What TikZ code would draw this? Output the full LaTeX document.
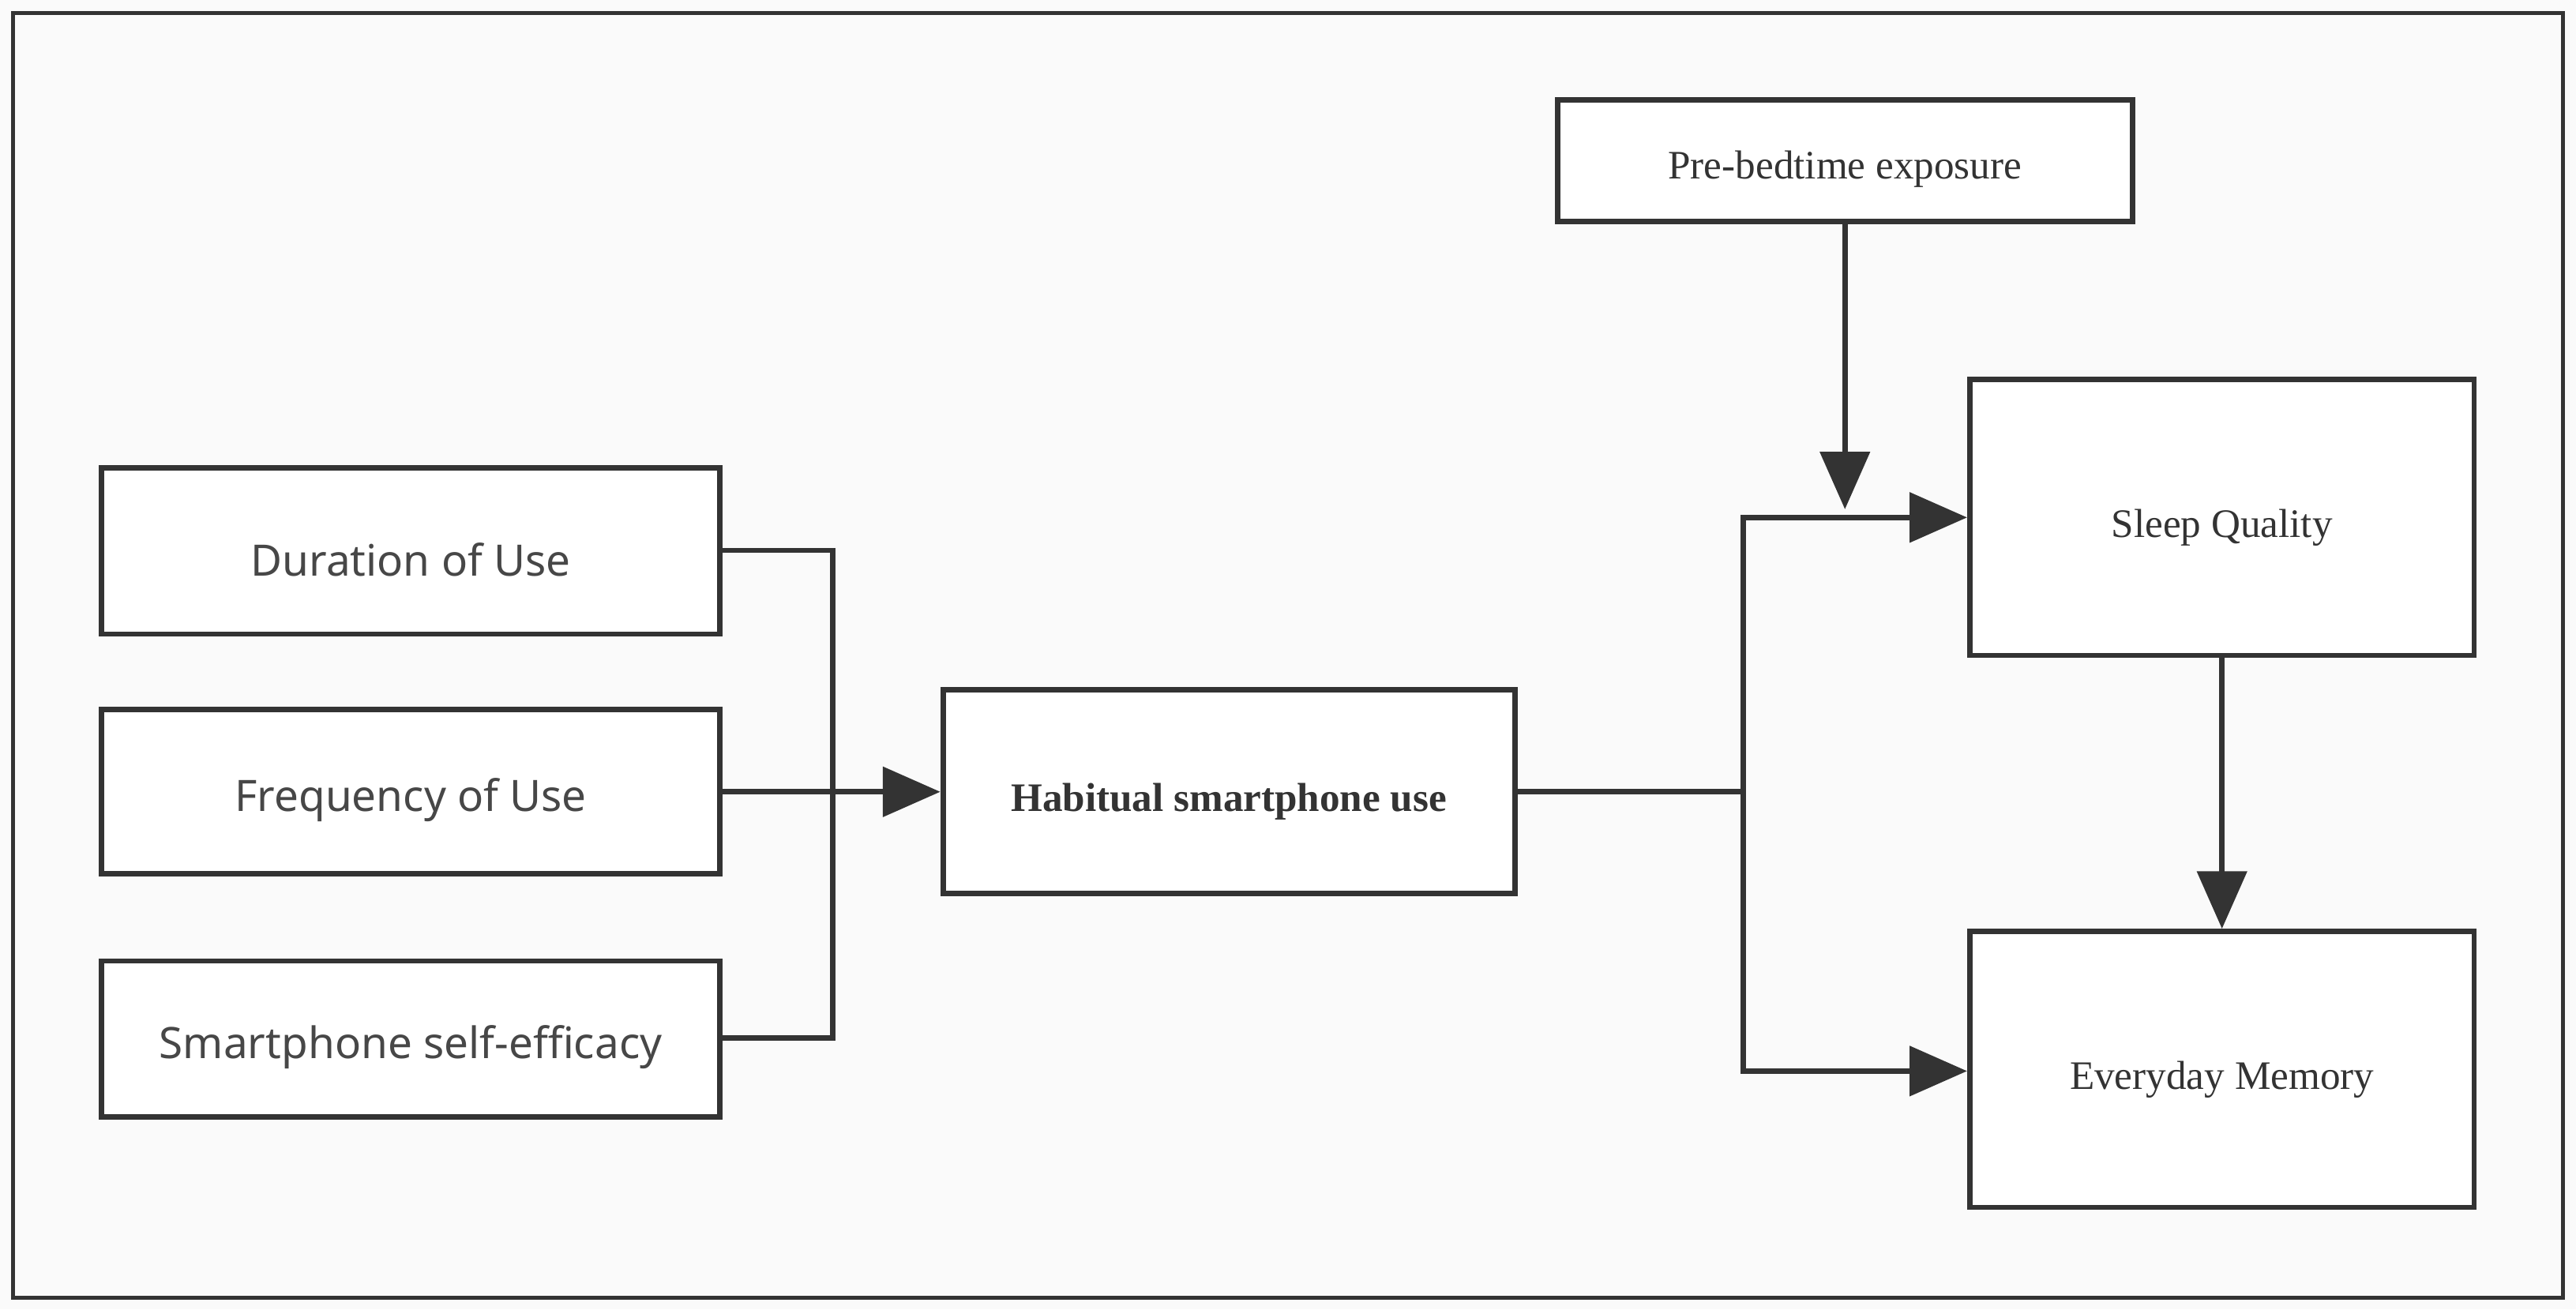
\documentclass[tikz,border=0pt]{standalone}
\usepackage{fontspec}
\setmainfont{Liberation Serif}
\newfontfamily\sansf{Noto Sans}
\usetikzlibrary{arrows.meta}
\definecolor{ln}{HTML}{333333}
\begin{document}
\begin{tikzpicture}[x=0.3mm,y=-0.3mm,
  box/.style={draw=ln,line width=2.8pt,fill=white,inner sep=0pt,text=ln,font=\fontsize{21}{26}\selectfont},
  sbox/.style={box,font=\sansf\fontsize{22.5}{26}\selectfont,text=ln!90},
  wire/.style={draw=ln,line width=2.8pt,line join=miter},
  arr/.style={wire,-{Triangle[length=10.5mm,width=9mm]}}]
\useasboundingbox (0,0) rectangle (1568,797);
\fill[black!2] (0,0) rectangle (1568,797);
\draw[ln,line width=2pt] (8,8) rectangle (1560,790);
\node[sbox,minimum width=113mm,minimum height=30.3mm] (dur) at (250,335.5) {};
\node[sbox,minimum width=113mm,minimum height=30mm] (fre) at (250,482) {};
\node[sbox,minimum width=113mm,minimum height=28.5mm] (sel) at (250,632.5) {};
\node[box,minimum width=104.4mm,minimum height=37.2mm] (hab) at (748,482) {};
\node[box,minimum width=105mm,minimum height=22.2mm] (pre) at (1123,98) {};
\node[box,minimum width=92.1mm,minimum height=50.4mm] (slp) at (1352.5,315) {};
\node[box,minimum width=92.1mm,minimum height=50.4mm] (mem) at (1352.5,651) {};
\node[sbox,draw=none,fill=none] at ([yshift=-1.5mm]dur.center) {Duration of Use};
\node[sbox,draw=none,fill=none] at ([yshift=-1.5mm]fre.center) {Frequency of Use};
\node[sbox,draw=none,fill=none] at ([yshift=-1.5mm]sel.center) {Smartphone self-efficacy};
\node[box,draw=none,fill=none,font=\bfseries\fontsize{21}{26}\selectfont] at ([yshift=-1.8mm]hab.center) {Habitual smartphone use};
\node[box,draw=none,fill=none] at ([yshift=-1.5mm]pre.center) {Pre-bedtime exposure};
\node[box,draw=none,fill=none] at ([yshift=-1.8mm]slp.center) {Sleep Quality};
\node[box,draw=none,fill=none] at ([yshift=-1.8mm]mem.center) {Everyday Memory};
\coordinate (j1a) at (507,335); \coordinate (j1b) at (507,632);
\coordinate (j2) at (1061,482); \coordinate (j2a) at (1061,315); \coordinate (j2b) at (1061,652);
\coordinate (pe) at (1123,310);
\draw[wire] (dur.east |- j1a) -- (j1a) -- (j1b) -- (sel.east |- j1b);
\draw[arr] (fre.east) -- (hab.west);
\draw[wire] (hab.east) -- (j2);
\draw[arr] (j2) -- (j2a) -- (slp.west |- j2a);
\draw[arr] (j2) -- (j2b) -- (mem.west |- j2b);
\draw[arr] (pre.south) -- (pe);
\draw[arr] (slp.south) -- (mem.north);
\end{tikzpicture}
\end{document}
